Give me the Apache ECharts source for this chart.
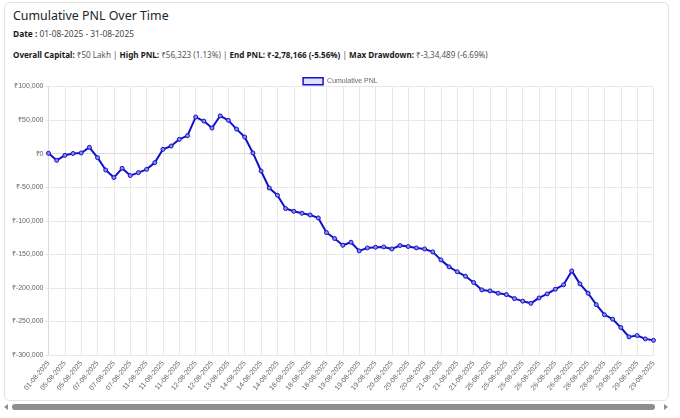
<!DOCTYPE html>
<html>
<head>
<meta charset="utf-8">
<title>Cumulative PNL Over Time</title>
<script src="https://cdn.jsdelivr.net/npm/echarts@6/dist/echarts.min.js"></script>
<style>
	html, body { margin: 0; padding: 0; background: #fff; }
	body { width: 680px; height: 418px; overflow: hidden; position: relative; font-family: "Noto Sans", sans-serif; color: #212529; }
	.card { position: absolute; left: 4px; top: 2px; width: 665px; height: 399px; border: 1px solid #e3e3e3; border-radius: 6px; box-sizing: border-box; }
	.head { position: absolute; left: 13px; white-space: nowrap; line-height: 1; }
	.title { top: 10px; font-size: 12.4px; }
	.date { top: 29.5px; font-size: 8.4px; color: #444; }
	.stats { top: 50.5px; font-size: 8.1px; color: #555; }
	.head b { color: #1a1a1a; font-weight: 700; }
	#chart { position: absolute; left: 0; top: 0; width: 680px; height: 418px; }
	.sbar { position: absolute; left: 12px; top: 404px; width: 643px; height: 6px; background: #8d8d8d; border-radius: 3px; }
	.arr-l { position: absolute; left: 4px; top: 404px; width: 0; height: 0; border-top: 3px solid transparent; border-bottom: 3px solid transparent; border-right: 4px solid #8d8d8d; }
	.arr-r { position: absolute; left: 664px; top: 404px; width: 0; height: 0; border-top: 3px solid transparent; border-bottom: 3px solid transparent; border-left: 4px solid #8d8d8d; }
</style>
</head>
<body>
	<div class="card"></div>
	<div class="head title">Cumulative PNL Over Time</div>
	<div class="head date"><b>Date :</b> 01-08-2025 - 31-08-2025</div>
	<div class="head stats"><b>Overall Capital:</b> ₹50 Lakh | <b>High PNL:</b> ₹56,323 (1.13%) | <b>End PNL: ₹-2,78,166 (-5.56%)</b> | <b>Max Drawdown:</b> ₹-3,34,489 (-6.69%)</div>
	<div id="chart"></div>
	<div class="arr-l"></div>
	<div class="sbar"></div>
	<div class="arr-r"></div>
<script>
	// trade dates (x axis), one entry per point
	var tradeDates = [
		'01-08-2025', '04-08-2025', '05-08-2025', '05-08-2025', '05-08-2025', '06-08-2025', '07-08-2025', '07-08-2025',
		'07-08-2025', '07-08-2025', '07-08-2025', '08-08-2025', '11-08-2025', '11-08-2025', '11-08-2025', '11-08-2025',
		'11-08-2025', '12-08-2025', '12-08-2025', '12-08-2025', '12-08-2025', '13-08-2025', '13-08-2025', '13-08-2025',
		'14-08-2025', '14-08-2025', '14-08-2025', '14-08-2025', '14-08-2025', '18-08-2025', '18-08-2025', '18-08-2025',
		'18-08-2025', '18-08-2025', '18-08-2025', '19-08-2025', '19-08-2025', '19-08-2025', '19-08-2025', '19-08-2025',
		'19-08-2025', '20-08-2025', '20-08-2025', '20-08-2025', '20-08-2025', '20-08-2025', '20-08-2025', '21-08-2025',
		'21-08-2025', '21-08-2025', '21-08-2025', '21-08-2025', '21-08-2025', '22-08-2025', '25-08-2025', '25-08-2025',
		'25-08-2025', '25-08-2025', '25-08-2025', '26-08-2025', '26-08-2025', '26-08-2025', '26-08-2025', '26-08-2025',
		'26-08-2025', '28-08-2025', '28-08-2025', '28-08-2025', '28-08-2025', '28-08-2025', '29-08-2025', '29-08-2025',
		'29-08-2025', '29-08-2025', '29-08-2025'
	];

	// cumulative pnl
	var cumulativePnl = [
		500, -10000, -2500, 200, 1000, 9400, -6000, -24400,
		-35700, -21900, -32700, -28300, -23400, -13400, 6400, 11300,
		21300, 26800, 54500, 48500, 38100, 56323, 49600, 36500,
		24700, 1000, -25900, -51200, -62000, -81800, -85900, -88800,
		-91400, -95800, -117600, -126500, -136500, -132000, -144900, -140500,
		-139400, -139000, -142000, -136900, -138400, -140500, -142000, -146400,
		-158300, -168700, -176000, -182600, -192000, -203000, -204500, -208000,
		-210000, -216000, -219800, -223000, -215000, -209000, -202000, -195500,
		-174700, -194000, -208000, -225000, -240000, -246600, -259000, -273000,
		-271000, -276000, -278166
	];

	var yMin = -300000;
	var yMax = 100000;
	var yStep = 50000;

	var lineColor = '#1212cc';
	var gridColor = '#e8e8e8';
	var tickColor = '#666';

	var myChart = echarts.init(document.getElementById('chart'));

	var option = {
		animation: false,
		textStyle: { fontFamily: '"Liberation Sans", Arial, sans-serif' },
		legend: {
			top: 72,
			left: 'center',
			itemWidth: 20,
			itemHeight: 7,
			itemGap: 5,
			icon: 'rect',
			textStyle: { fontSize: 7, color: tickColor, padding: [0, 0, 0, -1] },
			data: [{
				name: 'Cumulative PNL',
				itemStyle: { color: 'rgba(0,0,200,0.12)', borderColor: lineColor, borderWidth: 1.5 }
			}]
		},
		grid: {
			left: 48.5,
			right: 26.5,
			top: 86.5,
			height: 268.5,
			containLabel: false
		},
		xAxis: {
			type: 'category',
			boundaryGap: false,
			data: tradeDates,
			axisLine: { show: true, lineStyle: { color: '#dcdcdc' } },
			axisTick: { show: false },
			splitLine: { show: true, interval: 1, lineStyle: { color: gridColor } },
			axisLabel: {
				interval: 1,
				rotate: 50,
				fontSize: 7,
				color: tickColor,
				margin: 7
			}
		},
		yAxis: {
			type: 'value',
			min: yMin,
			max: yMax,
			interval: yStep,
			axisLine: { show: true, lineStyle: { color: '#dcdcdc' } },
			axisTick: { show: true, length: 3, lineStyle: { color: gridColor } },
			splitLine: { lineStyle: { color: gridColor } },
			axisLabel: {
				fontSize: 7,
				color: tickColor,
				margin: 5,
				formatter: function(v) {
					return '₹' + v.toLocaleString('en-US');
				}
			}
		},
		series: [{
			name: 'Cumulative PNL',
			type: 'line',
			data: cumulativePnl,
			symbol: 'circle',
			symbolSize: 4,
			showAllSymbol: true,
			lineStyle: { color: lineColor, width: 2 },
			itemStyle: { color: '#8a8ae8', borderColor: lineColor, borderWidth: 1 }
		}]
	};

	myChart.setOption(option);
</script>
</body>
</html>
